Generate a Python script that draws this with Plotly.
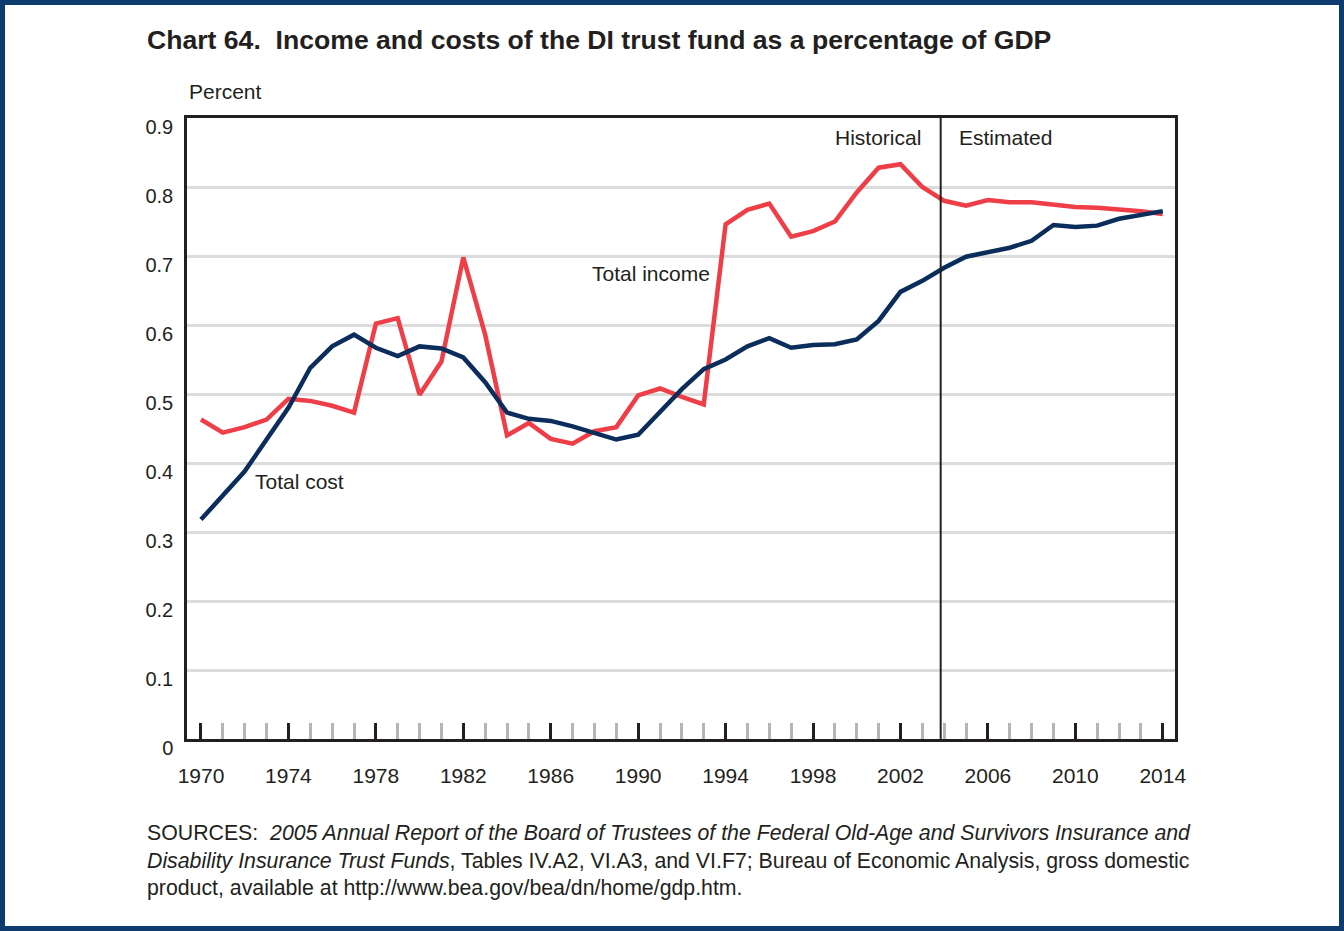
import plotly.graph_objects as go

# ---------------- data (percent of GDP) ----------------
years = list(range(1970, 2015))

total_income = [
    0.463, 0.444, 0.452, 0.463, 0.493, 0.490, 0.483, 0.473, 0.602, 0.610,
    0.499, 0.547, 0.698, 0.586, 0.440, 0.458, 0.435, 0.428, 0.446, 0.452,
    0.498, 0.508, 0.496, 0.485, 0.746, 0.767, 0.776, 0.728, 0.736, 0.750,
    0.792, 0.828, 0.833, 0.800, 0.780, 0.773, 0.781, 0.778, 0.778, 0.774,
    0.771, 0.770, 0.768, 0.765, 0.761,
]

total_cost = [
    0.318, 0.354, 0.388, 0.434, 0.480, 0.538, 0.569, 0.586, 0.567, 0.555,
    0.569, 0.566, 0.553, 0.517, 0.473, 0.464, 0.461, 0.453, 0.443, 0.434,
    0.441, 0.475, 0.507, 0.536, 0.550, 0.569, 0.581, 0.567, 0.571, 0.572,
    0.579, 0.606, 0.648, 0.664, 0.683, 0.699, 0.705, 0.712, 0.722, 0.745,
    0.742, 0.744, 0.754, 0.760, 0.765,
]

y_ticks = [0, 0.1, 0.2, 0.3, 0.4, 0.5, 0.6, 0.7, 0.8, 0.9]
y_ticktext = ["0", "0.1", "0.2", "0.3", "0.4", "0.5", "0.6", "0.7", "0.8", "0.9"]
split_year = 2003.84  # historical / estimated divider

RED = "#ef3e47"
NAVY = "#0b2d5c"
INK = "#231f20"
FONT = "Liberation Sans, Arial, sans-serif"

# ---------------- layout geometry (pixels) ----------------
W, H = 1344, 931
L, R, T, B = 187, 169, 118, 192
PW, PH = W - L - R, H - T - B


def px(x):
    return (x - L) / PW


def py(y):
    return 1 - (y - T) / PH


fig = go.Figure()
fig.add_trace(go.Scatter(x=years, y=total_income, mode="lines", name="Total income",
                         line=dict(color=RED, width=4.5)))
fig.add_trace(go.Scatter(x=years, y=total_cost, mode="lines", name="Total cost",
                         line=dict(color=NAVY, width=4.5)))

# divider + outer navy frame
fig.add_shape(type="line", xref="x", yref="y", x0=split_year, x1=split_year, y0=0, y1=0.9,
              line=dict(color=INK, width=2))
fig.add_shape(type="rect", xref="paper", yref="paper",
              x0=px(2.5), x1=px(W - 2.5), y0=py(H - 2.5), y1=py(2.5),
              line=dict(color="#0d3b6e", width=5), layer="above")

txt = dict(family=FONT, size=21, color=INK)
anns = [
    dict(x=px(145), y=py(40), text="<b>Chart 64.  Income and costs of the DI trust fund as a percentage of GDP</b>",
         xanchor="left", yanchor="middle", font=dict(family=FONT, size=26.6, color=INK)),
    dict(x=px(187), y=py(91), text="Percent", xanchor="left", yanchor="middle", font=txt),
    dict(x=1993.4, y=0.675, xref="x", yref="y", text="Total income", xanchor="right", yanchor="middle", font=txt),
    dict(x=1972.4, y=0.373, xref="x", yref="y", text="Total cost", xanchor="left", yanchor="middle", font=txt),
    dict(x=2003.05, y=0.872, xref="x", yref="y", text="Historical", xanchor="right", yanchor="middle", font=txt),
    dict(x=2004.6, y=0.872, xref="x", yref="y", text="Estimated", xanchor="left", yanchor="middle", font=txt),
    dict(x=px(145), y=py(819), yanchor="top", xanchor="left", align="left",
         text="SOURCES:  <i>2005 Annual Report of the Board of Trustees of the Federal Old-Age and Survivors Insurance and</i><br>"
              "<i>Disability Insurance Trust Funds</i>, Tables IV.A2, VI.A3, and VI.F7; Bureau of Economic Analysis, gross domestic<br>"
              "product, available at http://www.bea.gov/bea/dn/home/gdp.htm.",
         font=dict(family=FONT, size=21.3, color=INK)),
]
for a in anns:
    a.setdefault("xref", "paper")
    a.setdefault("yref", "paper")
    a["showarrow"] = False
    fig.add_annotation(**a)

fig.update_xaxes(range=[1969.36, 2014.56], tick0=1970, dtick=4, ticks="inside", ticklen=16,
                 tickwidth=2.5, tickcolor=INK, showgrid=False, zeroline=False,
                 showline=True, mirror=True, linecolor=INK, linewidth=2.5,
                 ticklabelstandoff=16, tickfont=dict(family=FONT, size=21, color=INK),
                 minor=dict(dtick=1, tick0=1970, ticks="inside", ticklen=16, tickwidth=2.5,
                            tickcolor="#b5b5b5", showgrid=False))
fig.update_yaxes(range=[0, 0.9], tickvals=y_ticks, ticktext=y_ticktext, ticks="",
                 showgrid=True, gridcolor="#dcdcdc", gridwidth=2.5, zeroline=False,
                 showline=True, mirror=True, linecolor=INK, linewidth=2.5,
                 ticklabelstandoff=7, ticklabelshift=9,
                 tickfont=dict(family=FONT, size=20, color=INK))
fig.update_layout(width=W, height=H, margin=dict(l=L, r=R, t=T, b=B),
                  paper_bgcolor="white", plot_bgcolor="white", showlegend=False)

fig.write_html("out.html", config={"displayModeBar": False},
               post_script="document.body.style.margin='0';")
